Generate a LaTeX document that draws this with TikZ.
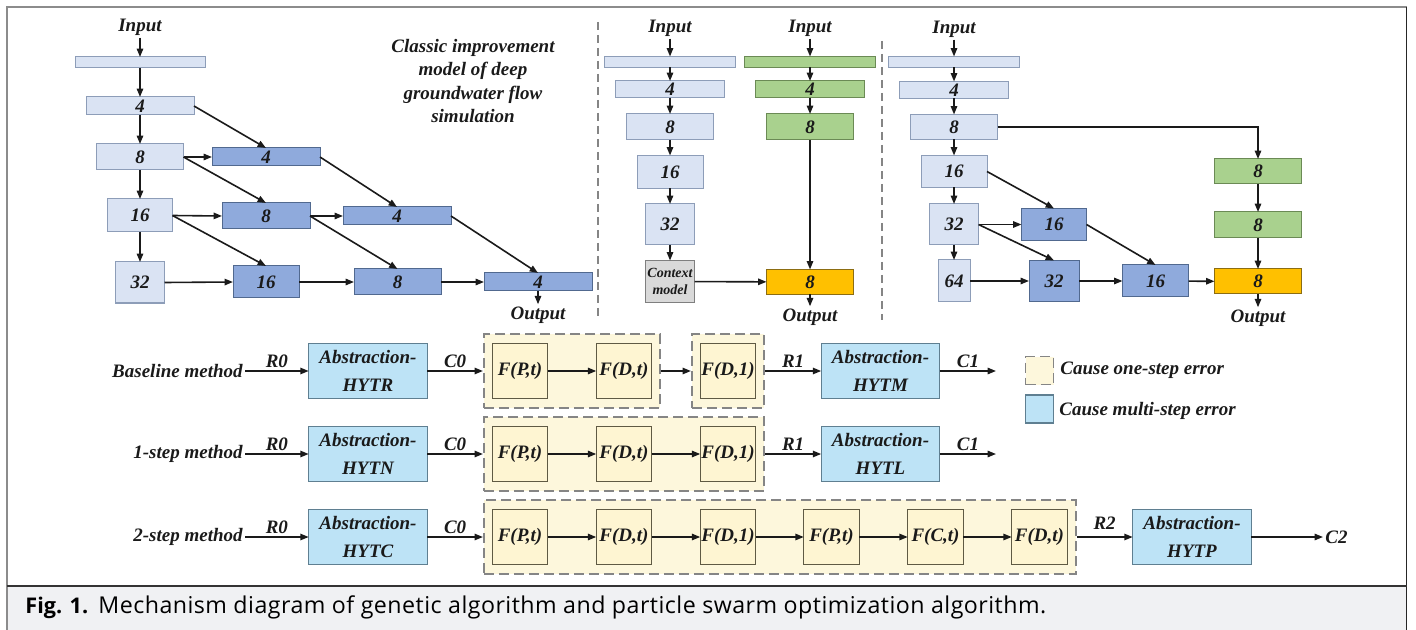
\documentclass[tikz,border=0pt]{standalone}
\usepackage{fontspec}
\setmainfont{Liberation Serif}
\newfontfamily\captionfont{Open Sans}
\newfontfamily\captionwide[LetterSpace=2]{Open Sans}
\usetikzlibrary{arrows.meta,fit,backgrounds}

\definecolor{lbfill}{HTML}{DAE3F3}
\definecolor{lbdraw}{HTML}{8D9DB8}
\definecolor{dbfill}{HTML}{8FAADC}
\definecolor{dbdraw}{HTML}{51698F}
\definecolor{gnfill}{HTML}{A9D18E}
\definecolor{gndraw}{HTML}{6B8A55}
\definecolor{orfill}{HTML}{FFC000}
\definecolor{ordraw}{HTML}{8C6D12}
\definecolor{cxfill}{HTML}{D9D9D9}
\definecolor{cxdraw}{HTML}{7F7F7F}
\definecolor{abfill}{HTML}{BDE3F6}
\definecolor{abdraw}{HTML}{5F7F91}
\definecolor{fnfill}{HTML}{FEF5D2}
\definecolor{fndraw}{HTML}{5F5A44}
\definecolor{gpfill}{HTML}{FDF7DC}
\definecolor{gpdraw}{HTML}{858585}
\definecolor{capfill}{HTML}{F0F1F3}
\definecolor{ink}{HTML}{1A1A1A}

\begin{document}
\begin{tikzpicture}[
  x=0.5pt, y=-0.5pt,
  lbl/.style={font=\fontsize{9.5}{11.65}\selectfont\bfseries\itshape, text=ink, inner sep=1pt},
  nbox/.style={draw, line width=0.5pt, inner sep=0pt, outer sep=0pt, align=center,
    font=\fontsize{9.5}{14}\selectfont\bfseries\itshape, text=ink},
  sz/.style 2 args={minimum width=#1*0.5pt, minimum height=#2*0.5pt},
  lb/.style={nbox, fill=lbfill, draw=lbdraw},
  db/.style={nbox, fill=dbfill, draw=dbdraw},
  gn/.style={nbox, fill=gnfill, draw=gndraw},
  orng/.style={nbox, fill=orfill, draw=ordraw},
  cx/.style={nbox, fill=cxfill, draw=cxdraw, font=\fontsize{7}{8.3}\selectfont\bfseries\itshape},
  ab/.style={nbox, fill=abfill, draw=abdraw, line width=0.6pt, sz={118.6}{55}},
  fn/.style={nbox, fill=fnfill, draw=fndraw, line width=0.6pt, sz={55.5}{55}},
  grp/.style={draw=gpdraw, fill=gpfill, line width=0.9pt, dash pattern=on 5pt off 2.5pt,
    inner xsep=4.2pt, inner ysep=4.65pt},
  arr/.style={draw=ink, line width=0.8pt, -{Triangle[length=4.2pt,width=3.2pt]}},
  panelsep/.style={draw=gpdraw, line width=0.6pt, dash pattern=on 4pt off 2.5pt},
  lab/.style={lbl, above, inner sep=1.5pt}
]
\useasboundingbox (0,0) rectangle (1416,630);

% frame and caption band
\fill[capfill] (6.5,586) rectangle (1406.5,632);
\draw[line width=1pt, black!45] (6.5,632) -- (6.5,7.5) -- (1406.5,7.5);
\draw[line width=0.9pt, black!85] (1406.5,7.5) -- (1406.5,632);
\draw[line width=0.9pt, black!80] (6.5,586) -- (1406.5,586);
\node[anchor=base west, inner sep=0pt, font=\captionfont\fontsize{10.8}{13}\selectfont\bfseries] (figno) at (25,613) {Fig. 1.};
\node[anchor=base west, inner sep=0pt, font=\captionwide\fontsize{11.6}{13}\selectfont] (captxt) at (98,613)
  {Mechanism diagram of genetic algorithm and particle swarm optimization algorithm.};

% panel separators
\draw[panelsep] (598,22) -- (598,320);
\draw[panelsep] (882,41) -- (882,320);

% ---------- panel 1 ----------
\node[lbl] (in1) at (140,27) {Input};
\node[lb, sz={130}{11}] (p1bar) at (140,62.5) {};
\node[lb, sz={108}{18}] (p1a4) at (140,106) {4};
\node[lb, sz={87}{26}] (p1a8) at (140,157) {8};
\node[lb, sz={65}{33}] (p1a16) at (140,215.5) {16};
\node[lb, sz={49}{41}] (p1a32) at (140,282.5) {32};
\node[db, sz={108}{18}] (p1d41) at (266,157) {4};
\node[db, sz={88}{26}] (p1d82) at (266,216) {8};
\node[db, sz={108}{18}] (p1d42) at (397,216) {4};
\node[db, sz={66}{32}] (p1d163) at (266,282) {16};
\node[db, sz={87}{26}] (p1d83) at (397.5,282) {8};
\node[db, sz={108}{18}] (p1d44) at (538,282) {4};
\node[lbl] (out1) at (538,315) {Output};
\node[lbl, align=center] (title1) at (473,81) {Classic improvement\\model of deep\\groundwater flow\\simulation};

\draw[arr] (in1) -- (p1bar);
\draw[arr] (p1bar) -- (p1a4);
\draw[arr] (p1a4) -- (p1a8);
\draw[arr] (p1a8) -- (p1a16);
\draw[arr] (p1a16) -- (p1a32);
\draw[arr] (p1a4.east) -- (p1d41.north);
\draw[arr] (p1a8.east) -- (p1d41.west);
\draw[arr] (p1a8.east) -- (p1d82.north);
\draw[arr] (p1d41.east) -- (p1d42.north);
\draw[arr] (p1a16.east) -- (p1d82.west);
\draw[arr] (p1a16.east) -- (p1d163.north);
\draw[arr] (p1d82.east) -- (p1d42.west);
\draw[arr] (p1d82.east) -- (p1d83.north);
\draw[arr] (p1d42.east) -- (p1d44.north);
\draw[arr] (p1a32.east) -- (p1d163.west);
\draw[arr] (p1d163.east) -- (p1d83.west);
\draw[arr] (p1d83.east) -- (p1d44.west);
\draw[arr] (p1d44) -- (out1);

% ---------- panel 2 ----------
\node[lbl] (in2a) at (670,28) {Input};
\node[lbl] (in2b) at (810,28) {Input};
\node[lb, sz={131}{11}] (p2bar) at (670,62) {};
\node[lb, sz={109}{17}] (p2a4) at (670,89.5) {4};
\node[lb, sz={87}{26}] (p2a8) at (670,127) {8};
\node[lb, sz={66}{33}] (p2a16) at (670,172) {16};
\node[lb, sz={49}{41}] (p2a32) at (670,224.5) {32};
\node[cx, sz={49}{42}] (p2ctx) at (670,281.5) {Context\\model};
\node[gn, sz={131}{11}] (p2gbar) at (810,62) {};
\node[gn, sz={109}{17}] (p2g4) at (810,89.5) {4};
\node[gn, sz={87}{26}] (p2g8) at (810,127) {8};
\node[orng, sz={87}{25}] (p2o8) at (810,282) {8};
\node[lbl] (out2) at (810,317) {Output};

\draw[arr] (in2a) -- (p2bar);
\draw[arr] (p2bar) -- (p2a4);
\draw[arr] (p2a4) -- (p2a8);
\draw[arr] (p2a8) -- (p2a16);
\draw[arr] (p2a16) -- (p2a32);
\draw[arr] (p2a32) -- (p2ctx);
\draw[arr] (in2b) -- (p2gbar);
\draw[arr] (p2gbar) -- (p2g4);
\draw[arr] (p2g4) -- (p2g8);
\draw[arr] (p2g8) -- (p2o8);
\draw[arr] (p2ctx) -- (p2o8);
\draw[arr] (p2o8) -- (out2);

% ---------- panel 3 ----------
\node[lbl] (in3) at (954,29) {Input};
\node[lb, sz={131}{11}] (p3bar) at (954,62) {};
\node[lb, sz={109}{17}] (p3a4) at (954,90) {4};
\node[lb, sz={87}{25}] (p3a8) at (954,127) {8};
\node[lb, sz={66}{32}] (p3a16) at (954,171.5) {16};
\node[lb, sz={49}{41}] (p3a32) at (954,224.5) {32};
\node[lb, sz={32}{42}] (p3a64) at (954,281) {64};
\node[db, sz={65}{32}] (p3d16) at (1054,224.5) {16};
\node[db, sz={50}{41}] (p3d32) at (1054,281) {32};
\node[db, sz={66}{32}] (p3d16b) at (1155.5,281) {16};
\node[gn, sz={87}{25}] (p3g8a) at (1258,171.5) {8};
\node[gn, sz={87}{26}] (p3g8b) at (1258,225) {8};
\node[orng, sz={87}{25}] (p3o8) at (1258,281.5) {8};
\node[lbl] (out3) at (1258,318) {Output};

\draw[arr] (in3) -- (p3bar);
\draw[arr] (p3bar) -- (p3a4);
\draw[arr] (p3a4) -- (p3a8);
\draw[arr] (p3a8) -- (p3a16);
\draw[arr] (p3a16) -- (p3a32);
\draw[arr] (p3a32) -- (p3a64);
\draw[arr] (p3a8.east) -| (p3g8a.north);
\draw[arr] (p3a16.east) -- (p3d16.north);
\draw[arr] (p3a32.east) -- (p3d16.west);
\draw[arr] (p3a32.east) -- (p3d32.north);
\draw[arr] (p3d16.east) -- (p3d16b.north);
\draw[arr] (p3a64) -- (p3d32);
\draw[arr] (p3d32) -- (p3d16b);
\draw[arr] (p3d16b) -- (p3o8);
\draw[arr] (p3g8a) -- (p3g8b);
\draw[arr] (p3g8b) -- (p3o8);
\draw[arr] (p3o8) -- (out3);

% ---------- method rows ----------
% baseline
\node[lbl, anchor=east] (m1) at (245,371) {Baseline method};
\node[ab] (a1) at (368,371) {Abstraction-\\HYTR};
\node[fn] (f11) at (520,371) {F(P,t)};
\node[fn] (f12) at (624,371) {F(D,t)};
\node[fn] (f13) at (728,371) {F(D,1)};
\node[ab] (b1) at (880.5,371) {Abstraction-\\HYTM};
\coordinate (e1) at (996,371);
% 1-step
\node[lbl, anchor=east] (m2) at (245,454) {1-step method};
\node[ab] (a2) at (368,454) {Abstraction-\\HYTN};
\node[fn] (f21) at (520,454) {F(P,t)};
\node[fn] (f22) at (624,454) {F(D,t)};
\node[fn] (f23) at (728,454) {F(D,1)};
\node[ab] (b2) at (880.5,454) {Abstraction-\\HYTL};
\coordinate (e2) at (996,454);
% 2-step
\node[lbl, anchor=east] (m3) at (245,537) {2-step method};
\node[ab] (a3) at (368,537) {Abstraction-\\HYTC};
\node[fn] (f31) at (520,537) {F(P,t)};
\node[fn] (f32) at (624,537) {F(D,t)};
\node[fn] (f33) at (728,537) {F(D,1)};
\node[fn] (f34) at (831.5,537) {F(P,t)};
\node[fn] (f35) at (935.5,537) {F(C,t)};
\node[fn] (f36) at (1039.5,537) {F(D,t)};
\node[ab] (b3) at (1192,537) {Abstraction-\\HYTP};
\node[lbl, anchor=west] (c2) at (1323,537) {C2};

\begin{scope}[on background layer]
  \node[grp, fit=(f11)(f12)] (g11) {};
  \node[grp, fit=(f13)] (g12) {};
  \node[grp, fit=(f21)(f23)] (g2) {};
  \node[grp, fit=(f31)(f36)] (g3) {};
\end{scope}

\draw[arr] (m1) -- node[lab] {R0} (a1);
\draw[arr] (a1) -- node[lab] {C0} (g11);
\draw[arr] (f11) -- (f12);
\draw[arr] (g11) -- (g12);
\draw[arr] (g12) -- node[lab] {R1} (b1);
\draw[arr] (b1.east) -- node[lab] {C1} (e1);

\draw[arr] (m2) -- node[lab] {R0} (a2);
\draw[arr] (a2) -- node[lab] {C0} (g2);
\draw[arr] (f21) -- (f22);
\draw[arr] (f22) -- (f23);
\draw[arr] (g2) -- node[lab] {R1} (b2);
\draw[arr] (b2.east) -- node[lab] {C1} (e2);

\draw[arr] (m3) -- node[lab] {R0} (a3);
\draw[arr] (a3) -- node[lab] {C0} (g3.west |- a3.east);
\draw[arr] (f31) -- (f32);
\draw[arr] (f32) -- (f33);
\draw[arr] (f33) -- (f34);
\draw[arr] (f34) -- (f35);
\draw[arr] (f35) -- (f36);
\draw[arr] (g3.east |- b3.west) -- node[lab, yshift=2pt] {R2} (b3);
\draw[arr] (b3) -- (c2);

% legend
\node[grp, inner sep=0pt, sz={28}{28}] (lg1) at (1039.5,370.5) {};
\node[nbox, fill=abfill, draw=abdraw, line width=0.6pt, sz={28}{28}] (lg2) at (1039.5,409) {};
\node[lbl, anchor=west] (lt1) at (1058,370) {Cause one-step error};
\node[lbl, anchor=west] (lt2) at (1057,411) {Cause multi-step error};
\end{tikzpicture}
\end{document}
